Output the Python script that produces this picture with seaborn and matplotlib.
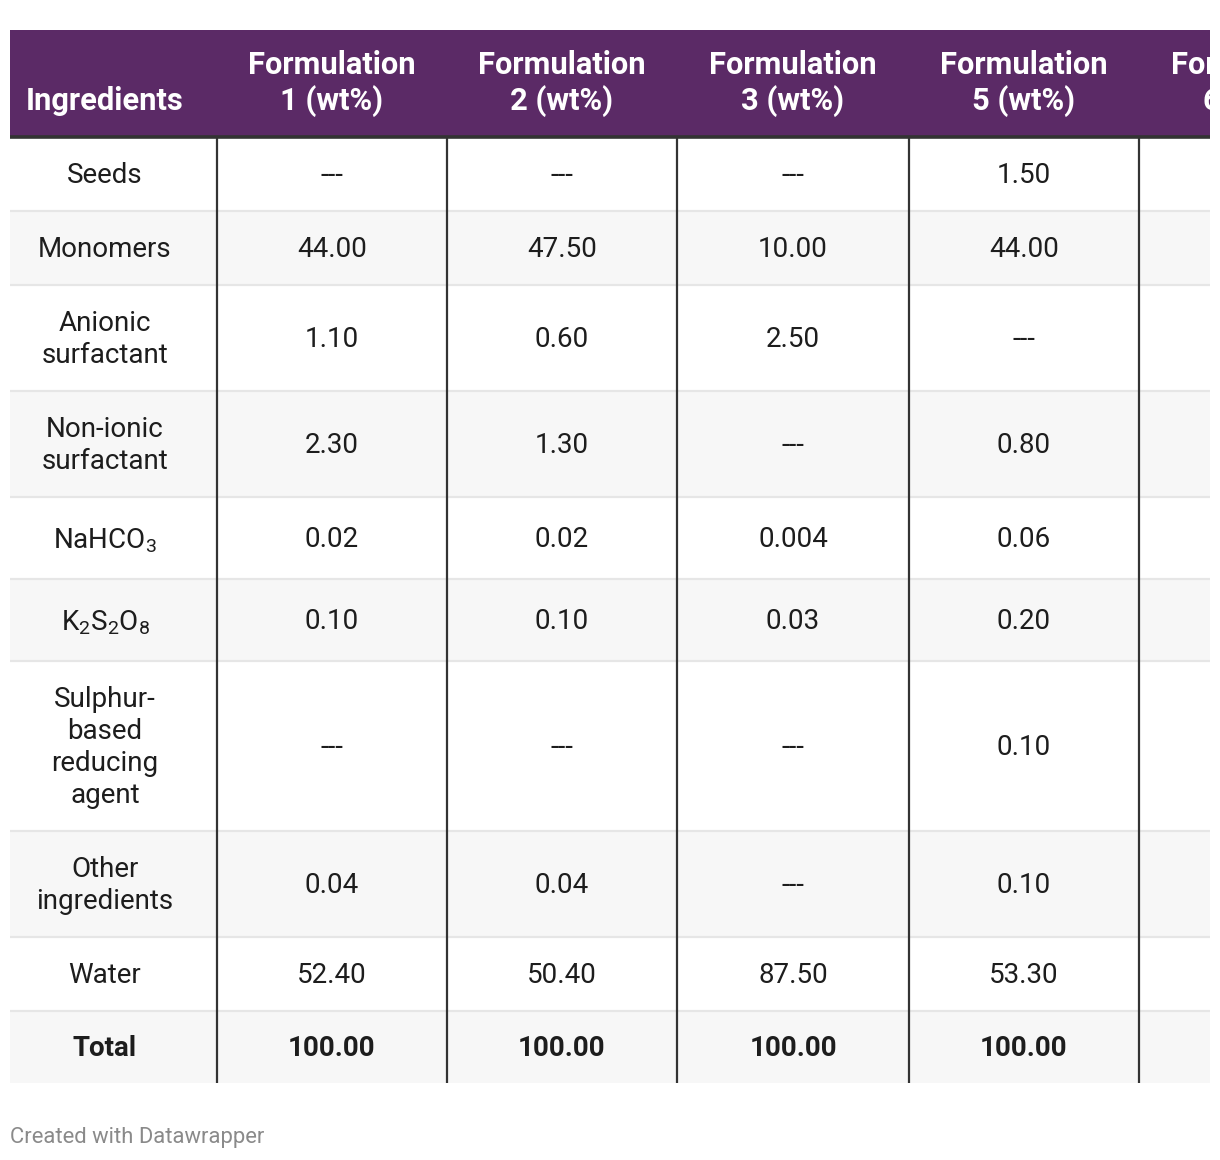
import matplotlib
matplotlib.use("Agg")
import matplotlib.pyplot as plt
import seaborn as sns
from matplotlib.patches import Rectangle

# ---------------- data ----------------
headers = ["Ingredients", "Formulation\n1 (wt%)", "Formulation\n2 (wt%)",
           "Formulation\n3 (wt%)", "Formulation\n5 (wt%)", "Formulation\n6 (wt%)"]
ingredients = ["Seeds", "Monomers", "Anionic\nsurfactant", "Non-ionic\nsurfactant",
               "NaHCO$_3$", "K$_2$S$_2$O$_8$", "Sulphur-\nbased\nreducing\nagent",
               "Other\ningredients", "Water", "Total"]
formulation_1 = ["---", "44.00", "1.10", "2.30", "0.02", "0.10", "---", "0.04", "52.40", "100.00"]
formulation_2 = ["---", "47.50", "0.60", "1.30", "0.02", "0.10", "---", "0.04", "50.40", "100.00"]
formulation_3 = ["---", "10.00", "2.50", "---", "0.004", "0.03", "---", "---", "87.50", "100.00"]
formulation_5 = ["1.50", "44.00", "---", "0.80", "0.06", "0.20", "0.10", "0.10", "53.30", "100.00"]
formulation_6 = ["", "", "", "", "", "", "", "", "", ""]
footer = "Created with Datawrapper"

columns = [ingredients, formulation_1, formulation_2, formulation_3, formulation_5, formulation_6]

# ---------------- layout ----------------
W, H = 1220, 1160
col_edges = [10, 217, 447, 677, 909, 1139, 1370]
header_top, header_bot = 30, 137
row_edges = [137, 211, 285, 391, 497, 579, 661, 831, 937, 1011, 1083]
clip_right = 1210

HEADER_BG = "#5B2A66"
STRIPE = "#F7F7F7"
SEP = "#E6E6E6"
VLINE = "#333333"
TEXT = "#1d1d1d"

sns.set_theme(style="white")
plt.rcParams["font.family"] = ["Roboto", "DejaVu Sans"]
plt.rcParams["mathtext.fontset"] = "custom"
plt.rcParams["mathtext.rm"] = "Roboto"
plt.rcParams["mathtext.default"] = "regular"

fig = plt.figure(figsize=(W / 100, H / 100), dpi=100)
fig.patch.set_facecolor("white")
ax = fig.add_axes([0, 0, clip_right / W, 1])
ax.set_xlim(0, clip_right)
ax.set_ylim(H, 0)
ax.axis("off")

FS = 20
FSH = 22.2

# header background
ax.add_patch(Rectangle((col_edges[0], header_top), col_edges[-1] - col_edges[0],
                       header_bot - header_top, facecolor=HEADER_BG, edgecolor="none"))

# row backgrounds
for i in range(len(ingredients)):
    y0, y1 = row_edges[i], row_edges[i + 1]
    color = "white" if i % 2 == 0 else STRIPE
    ax.add_patch(Rectangle((col_edges[0], y0), col_edges[-1] - col_edges[0], y1 - y0,
                           facecolor=color, edgecolor="none"))
    if i > 0:
        ax.plot([col_edges[0], col_edges[-1]], [y0, y0], color=SEP, lw=1.6,
                solid_capstyle="butt")

# header text
for j, h in enumerate(headers):
    cx = 105 if j == 0 else (col_edges[j] + col_edges[j + 1]) / 2
    cy = 101 if "\n" not in h else 83.5
    ax.text(cx, cy, h, ha="center", va="center", color="white", fontsize=FSH,
            fontweight="bold", linespacing=1.2)

# body text
for j, col in enumerate(columns):
    cx = 105 if j == 0 else (col_edges[j] + col_edges[j + 1]) / 2
    for i, val in enumerate(col):
        if not val:
            continue
        cy = (row_edges[i] + row_edges[i + 1]) / 2 + 1.5
        if "$" in val:
            cy += 1
        bold = (i == len(col) - 1)
        ax.text(cx, cy, val, ha="center", va="center", color=TEXT, fontsize=FS,
                fontweight="bold" if bold else "normal", linespacing=1.24)

# vertical lines
for x in col_edges[1:]:
    ax.plot([x, x], [row_edges[0], row_edges[-1]], color=VLINE, lw=1.6,
            solid_capstyle="butt")

# header bottom line
ax.plot([col_edges[0], col_edges[-1]], [header_bot, header_bot], color=VLINE, lw=2.6,
        solid_capstyle="butt")

# footer
fig.text(10 / W, 1 - 1137 / H, footer, ha="left", va="center", color="#8a8a8a",
         fontsize=15.8)

fig.savefig("out.png", dpi=100, facecolor="white")
